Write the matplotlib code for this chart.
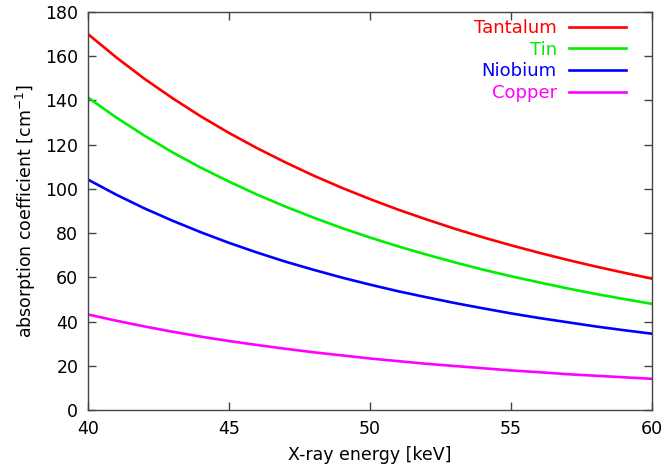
import matplotlib
matplotlib.use("Agg")
import matplotlib.pyplot as plt

# X-ray energy [keV]
energy = list(range(40, 61))

# absorption coefficients [1/cm]
tantalum = [170.0, 159.5, 149.8, 141.0, 132.8, 125.3, 118.4, 112.0, 106.0, 100.5, 95.4,
            90.6, 86.2, 82.0, 78.1, 74.5, 71.1, 67.9, 64.9, 62.1, 59.4]
tin = [141.3, 132.3, 124.1, 116.5, 109.6, 103.3, 97.4, 92.0, 87.0, 82.3, 78.0,
       74.0, 70.3, 66.8, 63.5, 60.5, 57.7, 55.0, 52.5, 50.2, 48.0]
niobium = [104.2, 97.4, 91.2, 85.6, 80.4, 75.6, 71.2, 67.1, 63.4, 59.9, 56.7,
           53.7, 51.0, 48.4, 46.0, 43.7, 41.6, 39.7, 37.8, 36.1, 34.5]
copper = [43.2, 40.4, 37.8, 35.4, 33.2, 31.2, 29.4, 27.7, 26.1, 24.7, 23.3,
          22.1, 20.9, 19.9, 18.9, 17.9, 17.1, 16.2, 15.5, 14.8, 14.1]

labels = ["Tantalum", "Tin", "Niobium", "Copper"]
colors = ["#ff0000", "#00ee00", "#0000ff", "#ff00ff"]

plt.rcParams["font.family"] = ["DejaVu Sans"]

fig = plt.figure(figsize=(6.66, 4.68), dpi=100)
ax = fig.add_axes([0.1321, 0.1239, 0.979 - 0.1321, 0.9744 - 0.1239])

for ys, lab, c in zip([tantalum, tin, niobium, copper], labels, colors):
    ax.plot(energy, ys, color=c, lw=1.9, label=lab)

ax.set_xlim(40, 60)
ax.set_ylim(0, 180)
ax.set_xticks(range(40, 61, 5))
ax.set_yticks(range(0, 181, 20))
ax.tick_params(direction="in", length=5.5, width=1, color="#444444",
               top=True, right=True, labelsize=12.5, pad=7)
for s in ax.spines.values():
    s.set_color("#444444")
    s.set_linewidth(1)

ax.set_xlabel("X-ray energy [keV]", fontsize=12.5, labelpad=6)
ax.set_ylabel("absorption coefficient [cm$^{-1}$]", fontsize=12.5, labelpad=5)

ax.legend(loc="upper right", frameon=False, markerfirst=False,
          labelcolor="linecolor", fontsize=13, handlelength=3.15,
          handletextpad=0.7, labelspacing=0.2,
          borderaxespad=0.0, bbox_to_anchor=(0.967, 1.0))

fig.savefig("out.png", dpi=100)
